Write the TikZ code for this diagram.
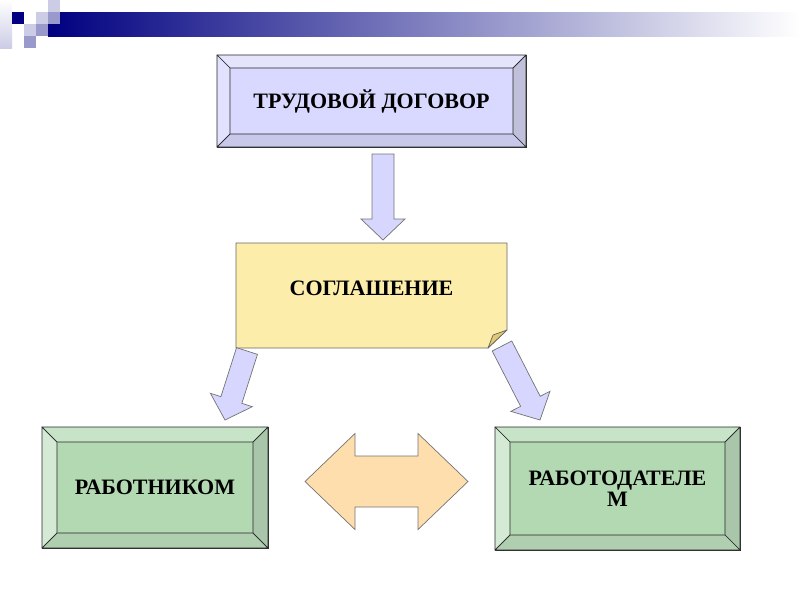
\documentclass[tikz,border=0pt]{standalone}
\usepackage{fontspec}
\setmainfont{Liberation Serif}
\definecolor{hdnavy}{RGB}{0,0,128}
\definecolor{hdlight}{RGB}{204,204,230}
\definecolor{hdmid}{RGB}{153,153,204}
\definecolor{lavface}{RGB}{217,217,255}
\definecolor{lavtop}{RGB}{228,228,252}
\definecolor{lavleft}{RGB}{226,226,255}
\definecolor{lavright}{RGB}{192,192,218}
\definecolor{lavbot}{RGB}{200,200,235}
\definecolor{grface}{RGB}{179,217,179}
\definecolor{grtop}{RGB}{200,228,200}
\definecolor{grleft}{RGB}{212,234,212}
\definecolor{grright}{RGB}{170,198,170}
\definecolor{grbot}{RGB}{176,206,176}
\definecolor{notefill}{RGB}{252,238,170}
\definecolor{notefold}{RGB}{226,200,112}
\definecolor{arrfill}{RGB}{214,214,255}
\definecolor{peach}{RGB}{255,222,173}
\usetikzlibrary{calc}

% bevelled frame round a box: node, inset, top, left, right, bottom
\newcommand{\bevelframe}[6]{%
  \coordinate (#1-a) at ($(#1.north west)+(#2,#2)$);
  \coordinate (#1-b) at ($(#1.north east)+(-#2,#2)$);
  \coordinate (#1-c) at ($(#1.south east)+(-#2,-#2)$);
  \coordinate (#1-d) at ($(#1.south west)+(#2,-#2)$);
  \draw[bevel,fill=#3] (#1.north west) -- (#1.north east) -- (#1-b) -- (#1-a) -- cycle;
  \draw[bevel,fill=#4] (#1.north west) -- (#1-a) -- (#1-d) -- (#1.south west) -- cycle;
  \draw[bevel,fill=#5] (#1.north east) -- (#1.south east) -- (#1-c) -- (#1-b) -- cycle;
  \draw[bevel,fill=#6] (#1.south west) -- (#1-d) -- (#1-c) -- (#1.south east) -- cycle;
}
% block arrow: name, tail, tip
\newcommand{\blockarrow}[3]{%
  \coordinate (#1-n) at ($(#3)!21pt!(#2)$);
  \draw[blockarr] ($(#2)!11pt!90:(#3)$) -- ($(#1-n)!11pt!90:(#3)$) -- ($(#1-n)!22pt!90:(#3)$)
    -- (#3) -- ($(#1-n)!22pt!-90:(#3)$) -- ($(#1-n)!11pt!-90:(#3)$) -- ($(#2)!11pt!-90:(#3)$) -- cycle;
}

\begin{document}
\begin{tikzpicture}[x=1pt,y=-1pt,
  boxtext/.style={font=\fontsize{22}{21}\selectfont\bfseries,align=center},
  bevelbox/.style={boxtext,draw=black!85,line width=0.7pt,outer sep=0pt,inner sep=0pt},
  bevel/.style={draw=black!85,line width=0.7pt,line join=round},
  note/.style={draw=black!60,line width=0.7pt,fill=notefill,line join=round},
  blockarr/.style={draw=black!55,fill=arrfill,line width=0.7pt,line join=miter}]
  \useasboundingbox (0,0) rectangle (800,600);

  % header
  \shade[top color=white,bottom color=hdlight] (0,0) rectangle (12,48);
  \shade[left color=hdnavy,right color=white] (48,12) rectangle (800,36);
  \fill[hdnavy] (12,12) rectangle ++(12,12);
  \fill[hdlight] (36,12) rectangle ++(12,12);
  \fill[hdlight] (48,0) rectangle ++(12,12);
  \fill[hdmid] (48,12) rectangle ++(12,12);
  \fill[hdlight] (24,24) rectangle ++(12,12);
  \fill[hdmid] (36,24) rectangle ++(12,12);
  \fill[hdmid] (24,36) rectangle ++(12,12);

  % top box
  \node[bevelbox,fill=lavface,minimum width=309pt,minimum height=92pt] (td) at (371.5,101) {ТРУДОВОЙ ДОГОВОР};
  \bevelframe{td}{13}{lavtop}{lavleft}{lavright}{lavbot}

  % note
  \node[outer sep=0pt,inner sep=0pt,minimum width=271pt,minimum height=105pt] (sg) at (371.5,295.5) {};
  \draw[note] (sg.north west) -- (sg.north east) -- ($(sg.south east)+(0,-18)$) -- ($(sg.south east)+(-19,0)$) -- (sg.south west) -- cycle;
  \draw[note,fill=notefold] ($(sg.south east)+(0,-18)$) -- ($(sg.south east)+(-19,0)$) -- ($(sg.south east)+(-14,-13)$) -- cycle;
  \node[boxtext] (sgtext) at ($(sg.center)+(0,-7)$) {СОГЛАШЕНИЕ};

  % bottom boxes
  \node[bevelbox,fill=grface,minimum width=226pt,minimum height=121pt] (wk) at (155,487.5) {РАБОТНИКОМ};
  \bevelframe{wk}{15}{grtop}{grleft}{grright}{grbot}
  \node[bevelbox,fill=grface,minimum width=245pt,minimum height=123pt] (rd) at (617.5,488.5) {РАБОТОДАТЕЛЕ\\М};
  \bevelframe{rd}{15}{grtop}{grleft}{grright}{grbot}

  % arrows
  \coordinate (a1t) at ($(td.south)+(11.5,7)$);
  \coordinate (a1h) at ($(sg.north)+(11.5,-3)$);
  \blockarrow{a1}{a1t}{a1h}
  \coordinate (a2t) at ($(sg.south west)+(11,3)$);
  \coordinate (a2h) at ($(wk.north east)+(-43,-7)$);
  \blockarrow{a2}{a2t}{a2h}
  \coordinate (a3t) at ($(sg.south east)+(-5,-2)$);
  \coordinate (a3h) at ($(rd.north west)+(45,-7)$);
  \blockarrow{a3}{a3t}{a3h}

  % double arrow
  \coordinate (dl) at ($(wk.east)+(37,-6)$);
  \coordinate (dr) at ($(rd.west)+(-27,-7)$);
  \draw[blockarr,fill=peach] (dl) -- ++(50,-48) -- ++(0,22.5) -- ($(dr)+(-50,-25.5)$) -- ++(0,-22.5) -- (dr)
    -- ++(-50,48) -- ++(0,-22.5) -- ($(dl)+(50,25.5)$) -- ++(0,22.5) -- cycle;
\end{tikzpicture}
\end{document}
